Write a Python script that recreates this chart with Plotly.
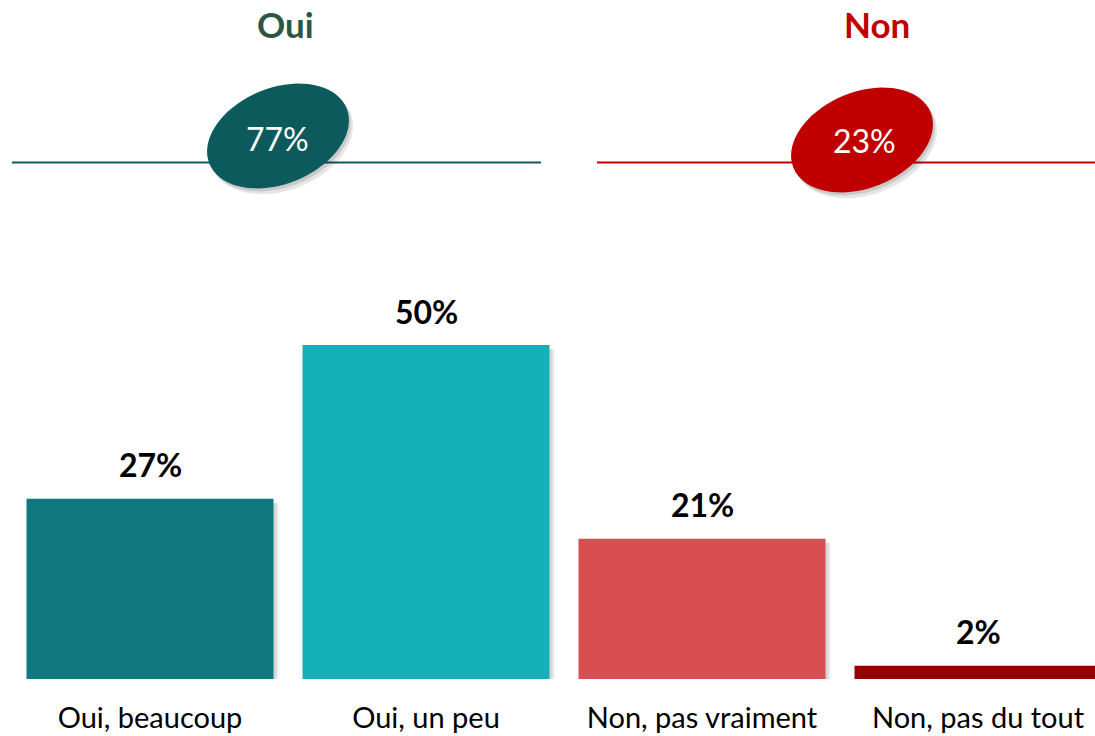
import numpy as np
import plotly.graph_objects as go

# ---- data ----
categories = ["Oui, beaucoup", "Oui, un peu", "Non, pas vraiment", "Non, pas du tout"]
values = [27, 50, 21, 2]
bar_colors = ["#10797F", "#14AFB7", "#D94F51", "#960000"]
group_titles = ["Oui", "Non"]
group_totals = [77, 23]
group_colors = ["#0D5A5C", "#C00000"]
title_colors = ["#2D5546", "#C00000"]

# ---- layout geometry ----
FW, FH = 1095, 736
ML, MR, MT, MB = 12, 0, 11, 57
PW, PH = FW - ML - MR, FH - MT - MB


def px(x):
    return (x - ML) / PW


def py(y):
    return (FH - MB - y) / PH


def ellipse_path(cx, cy, a, b, theta_deg, n=72):
    th = np.deg2rad(theta_deg)
    t = np.linspace(0, 2 * np.pi, n, endpoint=False)
    xs = cx + a * np.cos(t) * np.cos(th) - b * np.sin(t) * np.sin(th)
    ys = cy - (a * np.cos(t) * np.sin(th) + b * np.sin(t) * np.cos(th))
    pts = [f"{px(x):.5f},{py(y):.5f}" for x, y in zip(xs, ys)]
    return "M " + " L ".join(pts) + " Z"


x_idx = list(range(len(categories)))
bw = 247 / 276
off = -bw / 2
unit = 276  # px per category

fig = go.Figure()

# soft shadows to the right of each bar
for k, (dx, alpha) in enumerate([(5, 0.07), (3, 0.09)]):
    fig.add_trace(go.Bar(
        x=x_idx, y=[v - 0.3 for v in values], base=-0.35,
        width=bw, offset=off + dx / unit,
        marker=dict(color=f"rgba(0,0,0,{alpha})", line=dict(width=0)),
        hoverinfo="skip", showlegend=False,
    ))

fig.add_trace(go.Bar(
    x=x_idx, y=values, width=bw, offset=off,
    marker=dict(color=bar_colors, line=dict(width=0)),
    showlegend=False,
))

# value labels
for i, v in enumerate(values):
    fig.add_annotation(x=i, y=v, xref="x", yref="y", text=f"<b>{v}%</b>",
                       showarrow=False, yanchor="middle", yshift=34,
                       font=dict(family="Lato", size=32, color="#000000"))

shapes = []
# group header lines + ellipses
lines = [(12, 541), (597, 1095)]
centers = [(278, 136), (862, 140)]
text_pos = [(277, 138), (864, 140)]
title_x = [285, 877]
for g in range(2):
    x0, x1 = lines[g]
    shapes.append(dict(type="line", xref="paper", yref="paper",
                       x0=px(x0), x1=px(x1), y0=py(162.5), y1=py(162.5),
                       line=dict(color=group_colors[g], width=2)))
    cx, cy = centers[g]
    shapes.append(dict(type="path", xref="paper", yref="paper",
                       path=ellipse_path(cx + 4, cy + 5, 74, 49, 22),
                       fillcolor="rgba(0,0,0,0.10)", line=dict(width=0)))
    shapes.append(dict(type="path", xref="paper", yref="paper",
                       path=ellipse_path(cx + 2, cy + 3, 74, 48, 22),
                       fillcolor="rgba(0,0,0,0.12)", line=dict(width=0)))
    shapes.append(dict(type="path", xref="paper", yref="paper",
                       path=ellipse_path(cx, cy, 74, 48, 22),
                       fillcolor=group_colors[g], line=dict(width=0)))
    tx, ty = text_pos[g]
    fig.add_annotation(x=px(tx), y=py(ty), xref="paper", yref="paper",
                       text=f"{group_totals[g]}%", showarrow=False,
                       xanchor="center", yanchor="middle",
                       font=dict(family="Lato", size=32, color="#FFFFFF"))
    fig.add_annotation(x=px(title_x[g]), y=py(24), xref="paper", yref="paper",
                       text=f"<b>{group_titles[g]}</b>", showarrow=False,
                       xanchor="center", yanchor="middle",
                       font=dict(family="Lato", size=35, color=title_colors[g]))

fig.update_layout(
    width=FW, height=FH,
    margin=dict(l=ML, r=MR, t=MT, b=MB, autoexpand=False),
    paper_bgcolor="white", plot_bgcolor="white",
    barmode="overlay",
    shapes=shapes,
    xaxis=dict(range=[-0.5, -0.5 + PW / unit], tickmode="array",
               tickvals=x_idx, ticktext=categories, showgrid=False,
               zeroline=False, showline=False, ticks="",
               tickfont=dict(family="Lato", size=29, color="#000000"),
               ticklabelstandoff=19, fixedrange=True),
    yaxis=dict(range=[0, PH / 6.68], visible=False, showgrid=False,
               zeroline=False, fixedrange=True),
)

fig.write_html(
    "out.html",
    config={"displayModeBar": False},
    post_script="document.body.style.margin='0';document.body.style.overflow='hidden';",
)
